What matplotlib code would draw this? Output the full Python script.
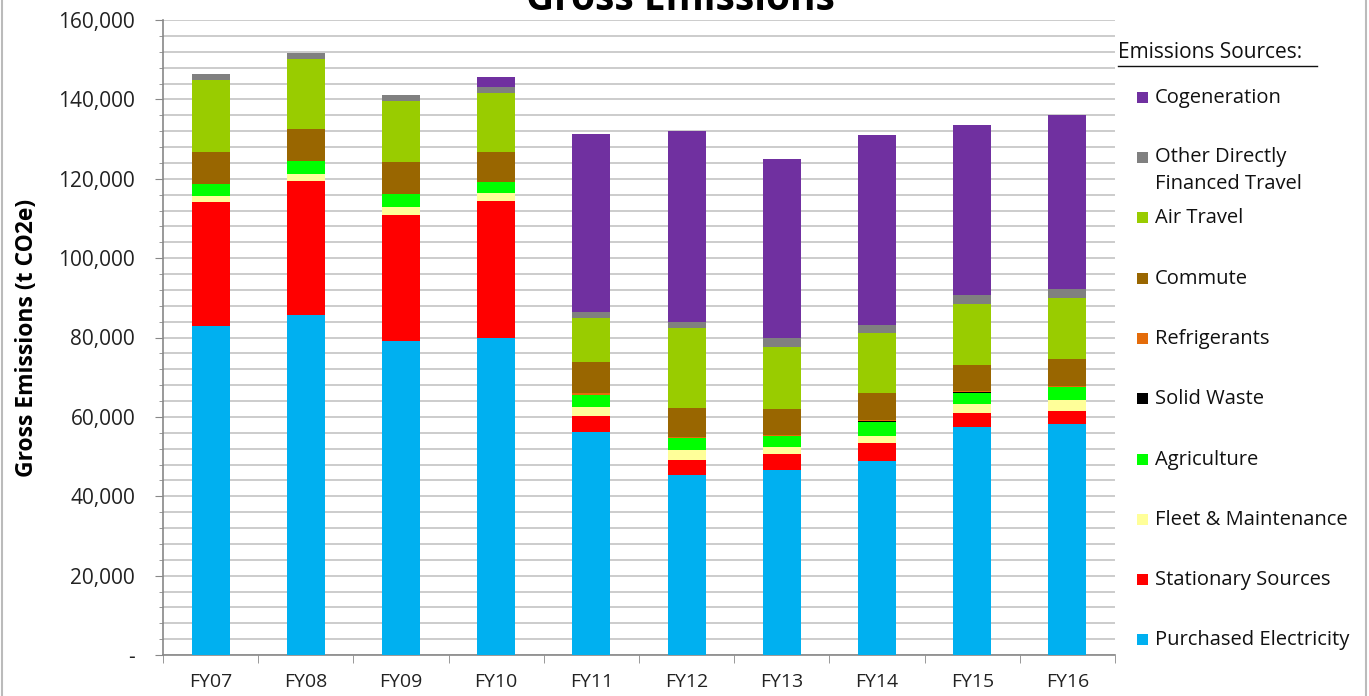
import numpy as np
import matplotlib.pyplot as plt
from matplotlib.patches import Rectangle
from matplotlib.ticker import MultipleLocator, FuncFormatter

plt.rcParams['font.family'] = ['Open Sans', 'DejaVu Sans']

# years
years = ['FY07', 'FY08', 'FY09', 'FY10', 'FY11', 'FY12', 'FY13', 'FY14', 'FY15', 'FY16']

# emissions by source (t CO2e), bottom to top of each stack
purchased_electricity = [83000, 85600, 79000, 79900, 56300, 45300, 46700, 48900, 57400, 58300]
stationary_sources = [31100, 33800, 31900, 34550, 4000, 3900, 3850, 4500, 3550, 3100]
fleet_maintenance = [1500, 1850, 2000, 1850, 2200, 2500, 1850, 1900, 2350, 2950]
agriculture = [3000, 3200, 3150, 3000, 2900, 3000, 2700, 3500, 2800, 3100]
solid_waste = [0, 0, 0, 0, 100, 100, 100, 100, 100, 100]
refrigerants = [0, 0, 0, 0, 400, 200, 150, 300, 300, 250]
commute = [8100, 8050, 8250, 7400, 7900, 7300, 6550, 6900, 6550, 6700]
air_travel = [18100, 17600, 15300, 14800, 11000, 20000, 15800, 15150, 15300, 15400]
other_travel = [1500, 1500, 1500, 1550, 1600, 1700, 2100, 1900, 2450, 2250]
cogeneration = [0, 0, 0, 2600, 44850, 48100, 45150, 47750, 42700, 43900]

series = [
    ('Purchased Electricity', purchased_electricity, '#00B0F0'),
    ('Stationary Sources', stationary_sources, '#FF0000'),
    ('Fleet & Maintenance', fleet_maintenance, '#FFFF99'),
    ('Agriculture', agriculture, '#00FF00'),
    ('Solid Waste', solid_waste, '#000000'),
    ('Refrigerants', refrigerants, '#E46C0A'),
    ('Commute', commute, '#996600'),
    ('Air Travel', air_travel, '#99CC00'),
    ('Other Directly\nFinanced Travel', other_travel, '#808080'),
    ('Cogeneration', cogeneration, '#7030A0'),
]

fig = plt.figure(figsize=(13.69, 6.96), dpi=100)
ax = fig.add_axes([163 / 1369, 41 / 696, 952 / 1369, 635 / 696])

x = np.arange(len(years))
bottom = np.zeros(len(years))
for name, vals, col in series:
    ax.bar(x, vals, 0.4, bottom=bottom, color=col, edgecolor='none', zorder=3)
    bottom += np.array(vals)

ax.set_xlim(-0.5, len(years) - 0.5)
ax.set_ylim(0, 160000)
ax.yaxis.set_major_locator(MultipleLocator(20000))
ax.yaxis.set_minor_locator(MultipleLocator(4000))
ax.yaxis.set_major_formatter(FuncFormatter(lambda v, p: '-' if v == 0 else f'{int(v):,}'))
ax.grid(axis='y', which='both', color='#c8c8c8', linewidth=1.3, zorder=0)
ax.set_axisbelow(True)

ax.set_xticks(x)
ax.set_xticklabels(years)
ax.set_xticks(np.arange(-0.5, len(years)), minor=True)
ax.tick_params(axis='x', which='major', length=0, labelsize=14, pad=13, colors='#222222')
ax.tick_params(axis='x', which='minor', length=6, color='#888888')
ax.tick_params(axis='y', which='major', length=6, color='#888888', labelsize=15,
               labelcolor='#222222', pad=14)
ax.tick_params(axis='y', which='minor', length=3, color='#888888')

for s in ['top', 'right']:
    ax.spines[s].set_visible(False)
for s in ['left', 'bottom']:
    ax.spines[s].set_color('#888888')
    ax.spines[s].set_linewidth(1.2)

ax.set_ylabel('Gross Emissions (t CO2e)', fontsize=16.5, fontweight='bold', labelpad=14)

fig.text(680 / 1369, 1.0, 'Gross Emissions', ha='center', va='center',
         fontsize=28, fontweight='bold')

# legend
fig.text(1118 / 1369, 1 - 53 / 696, 'Emissions Sources:', fontsize=15,
         va='center', ha='left', color='#111111')
fig.add_artist(plt.Line2D([1118 / 1369, 1317 / 1369], [1 - 66 / 696, 1 - 66 / 696],
                          color='#111111', linewidth=1))
legend_y = [640, 580, 520, 460, 399, 339, 279, 218, 158, 98]
for (name, vals, col), ly in zip(series, legend_y):
    fig.add_artist(Rectangle((1137 / 1369, 1 - (ly + 5) / 696), 11 / 1369, 11 / 696,
                             facecolor=col, edgecolor='none', transform=fig.transFigure))
    if '\n' in name:
        fig.text(1155 / 1369, 1 - (ly - 11) / 696, name, fontsize=14.5, va='top', ha='left',
                 color='#111111', linespacing=1.45)
    else:
        fig.text(1155 / 1369, 1 - ly / 696, name, fontsize=14.5, va='center', ha='left',
                 color='#111111')

fig.add_artist(Rectangle((2 / 1369, -0.01), 1364 / 1369, 1.02, fill=False,
                         edgecolor='#bbbbbb', linewidth=1.5, transform=fig.transFigure))

fig.savefig('out.png', dpi=100)
